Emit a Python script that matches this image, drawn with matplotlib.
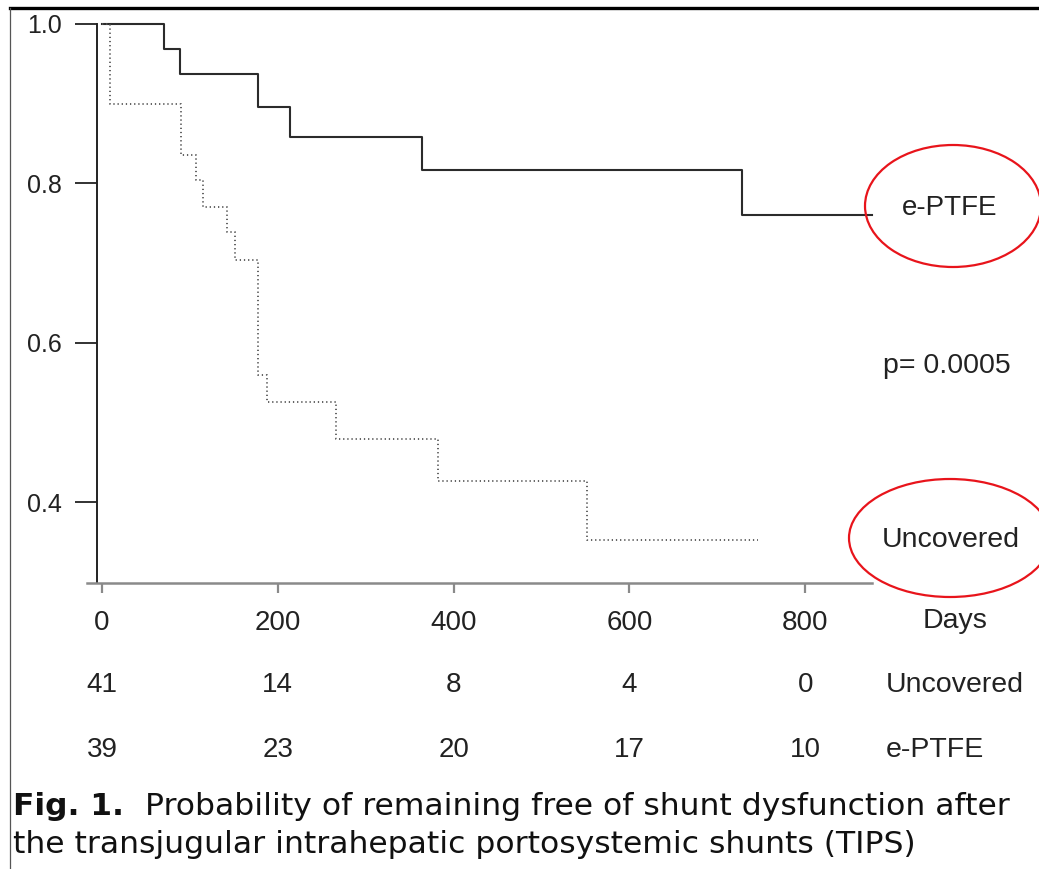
import matplotlib
matplotlib.use("Agg")
import matplotlib.pyplot as plt
import matplotlib.transforms as mtransforms
from matplotlib.patches import Ellipse
from matplotlib.lines import Line2D

W, H, DPI = 1039, 869, 100

# Kaplan-Meier step points (day of event, survival after the event)
eptfe_days = [0, 70, 89, 178, 214, 364, 728, 876]
eptfe_surv = [1.0, 0.968, 0.937, 0.896, 0.858, 0.817, 0.760, 0.760]

uncov_days = [0, 9, 90, 107, 115, 142, 151, 177, 188, 266, 382, 552, 746]
uncov_surv = [1.0, 0.899, 0.835, 0.804, 0.770, 0.739, 0.704, 0.560, 0.525,
              0.479, 0.426, 0.352, 0.352]

# numbers at risk
risk_days = [0, 200, 400, 600, 800]
uncov_at_risk = [41, 14, 8, 4, 0]
eptfe_at_risk = [39, 23, 20, 17, 10]

y_ticks = [0.4, 0.6, 0.8, 1.0]
p_text = "p= 0.0005"

SANS = "Liberation Sans"
CAPTION = "DejaVu Sans"
INK = "#222222"


def fx(px):
    return px / W


def fy(py):
    return 1 - py / H


fig = plt.figure(figsize=(W / DPI, H / DPI), dpi=DPI)
fig.patch.set_facecolor("white")

# plot area: x -17..880 days, y 0.29..1.01
ax = fig.add_axes([fx(87.06), fy(589.7), 788.4 / W, (589.7 - 16.0) / H])
ax.set_xlim(-17, 880)
ax.set_ylim(0.29, 1.01)
ax.patch.set_visible(False)

ax.step(eptfe_days, eptfe_surv, where="post", color="#2b2b2b", lw=1.5,
        clip_on=False)
ax.step(uncov_days, uncov_surv, where="post", color="#555555", lw=1.3,
        linestyle=(0, (0.7, 1.6)), clip_on=False)

for side in ("top", "right"):
    ax.spines[side].set_visible(False)
ax.spines["left"].set_position(("data", -5.7))
ax.spines["left"].set_bounds(0.2985, 1.0)
ax.spines["left"].set_linewidth(1.4)
ax.spines["left"].set_color(INK)
ax.spines["bottom"].set_position(("data", 0.2985))
ax.spines["bottom"].set_bounds(-17, 876)
ax.spines["bottom"].set_linewidth(1.8)
ax.spines["bottom"].set_color("#8a8a8a")

ax.set_yticks(y_ticks)
ax.set_yticklabels([f"{v:.1f}" for v in y_ticks], family=SANS, fontsize=18,
                   color=INK)
ax.tick_params(axis="y", direction="out", length=15.8, width=1.3,
               color=INK, pad=9.4)

ax.set_xticks(risk_days)
ax.set_xticklabels([str(d) for d in risk_days], family=SANS, fontsize=20,
                   color=INK)
ax.tick_params(axis="x", direction="out", length=7.2, width=1.6,
               color="#8a8a8a", pad=12)

# risk table under the axis
row = mtransforms.blended_transform_factory(ax.transData, fig.transFigure)
for d, n_u, n_e in zip(risk_days, uncov_at_risk, eptfe_at_risk):
    ax.text(d, fy(692), str(n_u), transform=row, ha="center", va="baseline",
            family=SANS, fontsize=20, color=INK)
    ax.text(d, fy(757), str(n_e), transform=row, ha="center", va="baseline",
            family=SANS, fontsize=20, color=INK)

fig.text(fx(955), fy(628), "Days", ha="center", va="baseline",
         family=SANS, fontsize=20.5, color=INK)
fig.text(fx(886), fy(692), "Uncovered", ha="left", va="baseline",
         family=SANS, fontsize=20.5, color=INK)
fig.text(fx(886), fy(757), "e-PTFE", ha="left", va="baseline",
         family=SANS, fontsize=20.5, color=INK)

# group labels and p value on the right
fig.text(fx(883), fy(373), p_text, ha="left", va="baseline",
         family=SANS, fontsize=20.5, color=INK)
fig.text(fx(950), fy(215), "e-PTFE", ha="center", va="baseline",
         family=SANS, fontsize=20, color=INK)
fig.text(fx(951), fy(547), "Uncovered", ha="center", va="baseline",
         family=SANS, fontsize=20.5, color=INK)

fig.patches.append(Ellipse((fx(953), fy(206)), 176 / W, 122 / H,
                           transform=fig.transFigure, fill=False,
                           edgecolor="#e8141b", lw=1.6))
fig.patches.append(Ellipse((fx(950), fy(538)), 202 / W, 118 / H,
                           transform=fig.transFigure, fill=False,
                           edgecolor="#e8141b", lw=1.6))

# page frame
fig.add_artist(Line2D([fx(10), fx(1039)], [fy(7.5), fy(7.5)],
                      transform=fig.transFigure, color="black", lw=2.4))
fig.add_artist(Line2D([fx(10), fx(10)], [fy(7.5), fy(869)],
                      transform=fig.transFigure, color="#555555", lw=0.9))

# caption
fig.text(fx(13), fy(815), "Fig. 1.", ha="left", va="baseline",
         family=CAPTION, fontweight="bold", fontsize=22.5, color="#111111")
fig.text(fx(145), fy(815),
         "Probability of remaining free of shunt dysfunction after",
         ha="left", va="baseline", family=CAPTION, fontsize=22.6,
         color="#111111")
fig.text(fx(13), fy(853),
         "the transjugular intrahepatic portosystemic shunts (TIPS)",
         ha="left", va="baseline", family=CAPTION, fontsize=22.6,
         color="#111111")

fig.savefig("out.png", dpi=DPI)
